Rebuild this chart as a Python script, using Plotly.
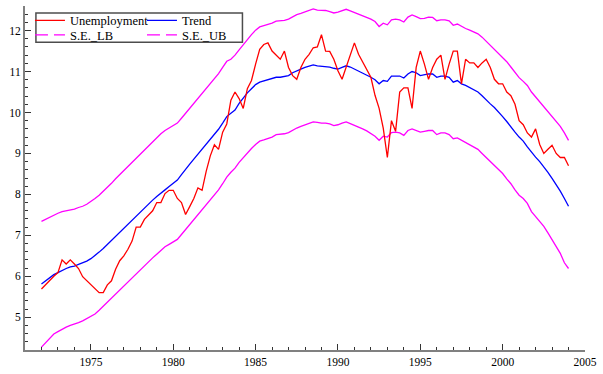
import plotly.graph_objects as go

# Quarterly observations, 1972Q1 .. 2004Q1
start_year = 1972.0
unemployment = [
    5.69, 5.80, 5.90, 6.00,
    6.09, 6.40, 6.30, 6.40,
    6.30, 6.19, 5.99, 5.89,
    5.79, 5.69, 5.60, 5.60,
    5.79, 5.89, 6.17, 6.38,
    6.50, 6.66, 6.86, 7.20,
    7.20, 7.39, 7.50, 7.60,
    7.80, 7.80, 8.02, 8.10,
    8.10, 7.90, 7.80, 7.51,
    7.70, 7.90, 8.16, 8.10,
    8.56, 8.94, 9.21, 9.10,
    9.52, 9.72, 10.30, 10.50,
    10.34, 10.10, 10.58, 10.78,
    11.18, 11.54, 11.66, 11.70,
    11.50, 11.40, 11.30, 11.50,
    11.10, 10.90, 10.81, 11.10,
    11.30, 11.42, 11.58, 11.60,
    11.90, 11.50, 11.49, 11.30,
    11.02, 10.81, 11.10, 11.42,
    11.70, 11.42, 11.24, 11.06,
    10.86, 10.42, 10.10, 9.62,
    8.90, 9.80, 9.54, 10.50,
    10.60, 10.60, 10.10, 11.10,
    11.50, 11.18, 10.81, 11.10,
    11.30, 11.40, 10.81, 11.18,
    11.50, 11.50, 10.70, 11.30,
    11.21, 11.21, 11.10, 11.21,
    11.30, 11.10, 10.81, 10.70,
    10.70, 10.50, 10.41, 10.20,
    9.80, 9.70, 9.50, 9.40,
    9.60, 9.22, 9.00, 9.10,
    9.20, 9.00, 8.90, 8.90,
    8.70,
]
trend = [
    5.81, 5.89, 5.97, 6.04,
    6.09, 6.15, 6.19, 6.23,
    6.25, 6.29, 6.33, 6.37,
    6.43, 6.50, 6.59, 6.68,
    6.78, 6.87, 6.98, 7.07,
    7.18, 7.27, 7.38, 7.47,
    7.57, 7.66, 7.76, 7.86,
    7.95, 8.04, 8.11, 8.19,
    8.26, 8.35, 8.48, 8.62,
    8.74, 8.86, 8.98, 9.10,
    9.23, 9.34, 9.47, 9.59,
    9.74, 9.90, 9.98, 10.06,
    10.22, 10.36, 10.48, 10.58,
    10.68, 10.74, 10.77, 10.80,
    10.82, 10.86, 10.86, 10.88,
    10.90, 10.97, 11.02, 11.06,
    11.10, 11.13, 11.16, 11.14,
    11.13, 11.13, 11.11, 11.08,
    11.06, 11.10, 11.14, 11.11,
    11.06, 11.02, 10.98, 10.92,
    10.86, 10.80, 10.70, 10.78,
    10.76, 10.89, 10.89, 10.89,
    10.84, 10.94, 11.00, 10.97,
    10.90, 10.92, 10.94, 10.94,
    10.86, 10.89, 10.89, 10.86,
    10.74, 10.78, 10.70, 10.66,
    10.60, 10.55, 10.50, 10.41,
    10.30, 10.21, 10.12, 10.02,
    9.90, 9.78, 9.64, 9.52,
    9.40, 9.30, 9.16, 9.02,
    8.91, 8.80, 8.68, 8.54,
    8.39, 8.24, 8.08, 7.90,
    7.71,
]
se_ub = [
    7.34, 7.39, 7.46, 7.50,
    7.54, 7.58, 7.60, 7.62,
    7.64, 7.68, 7.71, 7.76,
    7.82, 7.90, 7.98, 8.07,
    8.18, 8.27, 8.38, 8.48,
    8.59, 8.70, 8.79, 8.88,
    8.98, 9.08, 9.18, 9.28,
    9.38, 9.48, 9.56, 9.62,
    9.68, 9.74, 9.86, 9.98,
    10.10, 10.22, 10.34, 10.46,
    10.60, 10.70, 10.82, 10.95,
    11.10, 11.25, 11.30, 11.40,
    11.53, 11.66, 11.78, 11.90,
    12.01, 12.09, 12.12, 12.15,
    12.18, 12.23, 12.24, 12.25,
    12.28, 12.34, 12.39, 12.42,
    12.46, 12.49, 12.53, 12.50,
    12.50, 12.49, 12.46, 12.43,
    12.45, 12.49, 12.52, 12.48,
    12.44, 12.41, 12.37, 12.33,
    12.28, 12.22, 12.10, 12.18,
    12.14, 12.26, 12.28, 12.26,
    12.21, 12.33, 12.38, 12.34,
    12.29, 12.30, 12.33, 12.32,
    12.24, 12.26, 12.26, 12.24,
    12.13, 12.16, 12.10, 12.05,
    12.01, 11.97, 11.92, 11.84,
    11.74, 11.64, 11.56, 11.46,
    11.36, 11.24, 11.11, 10.98,
    10.85, 10.76, 10.66, 10.50,
    10.38, 10.28, 10.16, 10.02,
    9.90, 9.80, 9.66, 9.50,
    9.32,
]
se_lb = [
    4.27, 4.37, 4.49, 4.59,
    4.65, 4.71, 4.76, 4.80,
    4.83, 4.87, 4.91, 4.96,
    5.01, 5.08, 5.17, 5.27,
    5.37, 5.47, 5.57, 5.67,
    5.77, 5.87, 5.97, 6.06,
    6.16, 6.25, 6.35, 6.45,
    6.54, 6.64, 6.72, 6.78,
    6.83, 6.90, 7.02, 7.14,
    7.26, 7.38, 7.50, 7.62,
    7.76, 7.87, 7.98, 8.11,
    8.26, 8.42, 8.54, 8.64,
    8.78, 8.90, 9.02, 9.12,
    9.22, 9.30, 9.33, 9.36,
    9.40, 9.46, 9.47, 9.48,
    9.51, 9.57, 9.62, 9.66,
    9.70, 9.73, 9.77, 9.76,
    9.74, 9.74, 9.72, 9.68,
    9.70, 9.74, 9.77, 9.73,
    9.69, 9.65, 9.60, 9.55,
    9.49, 9.42, 9.32, 9.42,
    9.40, 9.51, 9.52, 9.50,
    9.44, 9.56, 9.60, 9.56,
    9.52, 9.54, 9.56, 9.56,
    9.46, 9.50, 9.50, 9.46,
    9.36, 9.38, 9.32, 9.26,
    9.20, 9.16, 9.10, 9.00,
    8.90, 8.80, 8.72, 8.62,
    8.51, 8.38, 8.26, 8.11,
    7.98, 7.90, 7.78, 7.58,
    7.46, 7.34, 7.22, 7.06,
    6.90, 6.75, 6.56, 6.33,
    6.19,
]
series_names = ["Unemployment", "Trend", "S.E._LB", "S.E._UB"]

n = len(unemployment)
assert n == len(trend) == len(se_ub) == len(se_lb)
years = [start_year + 0.25 * i for i in range(n)]

RED = "#ff0000"
BLUE = "#0000ff"
MAG = "#ff00ff"
FONT = "Liberation Serif"
LW = 1.3

fig = go.Figure()
fig.add_trace(go.Scatter(x=years, y=se_lb, mode="lines", line=dict(color=MAG, width=LW),
                         showlegend=False, hoverinfo="skip"))
fig.add_trace(go.Scatter(x=years, y=se_ub, mode="lines", line=dict(color=MAG, width=LW),
                         showlegend=False, hoverinfo="skip"))
fig.add_trace(go.Scatter(x=years, y=trend, mode="lines", line=dict(color=BLUE, width=LW),
                         name=series_names[1], legend="legend"))
fig.add_trace(go.Scatter(x=years, y=unemployment, mode="lines", line=dict(color=RED, width=LW),
                         name=series_names[0], legend="legend"))
# legend keys for the band lines (dashed in the key)
fig.add_trace(go.Scatter(x=[None], y=[None], mode="lines",
                         line=dict(color=MAG, width=LW, dash="13px,6px"),
                         name=series_names[2], legend="legend2"))
fig.add_trace(go.Scatter(x=[None], y=[None], mode="lines",
                         line=dict(color=MAG, width=LW, dash="13px,6px"),
                         name=series_names[3], legend="legend2"))

W, H = 603, 374
ML, MR, MT, MB = 25, 14, 6, 18
pw = W - ML - MR
ph = H - MT - MB

def px_x(p):
    return (p - ML) / pw

def px_y(p):
    return (H - MB - p) / ph

legend_common = dict(
    orientation="h", xanchor="left", yanchor="middle",
    bgcolor="rgba(0,0,0,0)", borderwidth=0,
    font=dict(family=FONT, size=12.5, color="black"),
    entrywidth=67, entrywidthmode="pixels",
    itemclick=False, itemdoubleclick=False,
)

axis_common = dict(
    showgrid=False, zeroline=False, showline=True,
    linecolor="#808080", linewidth=2,
    ticks="inside", ticklen=6, tickwidth=1, tickcolor="#333333",
    tickfont=dict(family=FONT, size=11.5, color="black"),
)

fig.update_layout(
    width=W, height=H,
    margin=dict(l=ML, r=MR, t=MT, b=MB, pad=0),
    paper_bgcolor="white", plot_bgcolor="white",
    hovermode=False,
    xaxis=dict(range=[1971, 2005], tickmode="linear", tick0=1975, dtick=5,
               minor=dict(ticks="inside", dtick=1, ticklen=3, tickcolor="#333333"),
               **axis_common),
    yaxis=dict(range=[4.2, 12.6], tickmode="linear", tick0=0, dtick=1,
               minor=dict(ticks="inside", dtick=0.2, ticklen=3, tickcolor="#333333"),
               **axis_common),
    legend=dict(x=px_x(30), y=px_y(21), traceorder="reversed", **legend_common),
    legend2=dict(x=px_x(30), y=px_y(35.7), traceorder="normal", **legend_common),
    shapes=[dict(type="rect", xref="paper", yref="paper",
                 x0=px_x(36), x1=px_x(244), y0=px_y(43), y1=px_y(13),
                 line=dict(color="#4d4d4d", width=1.5), fillcolor="rgba(0,0,0,0)")],
    showlegend=True,
)

fig.write_html("out.html",
               config={"staticPlot": True, "displayModeBar": False},
               post_script="document.body.style.margin='0';document.body.style.overflow='hidden';")
